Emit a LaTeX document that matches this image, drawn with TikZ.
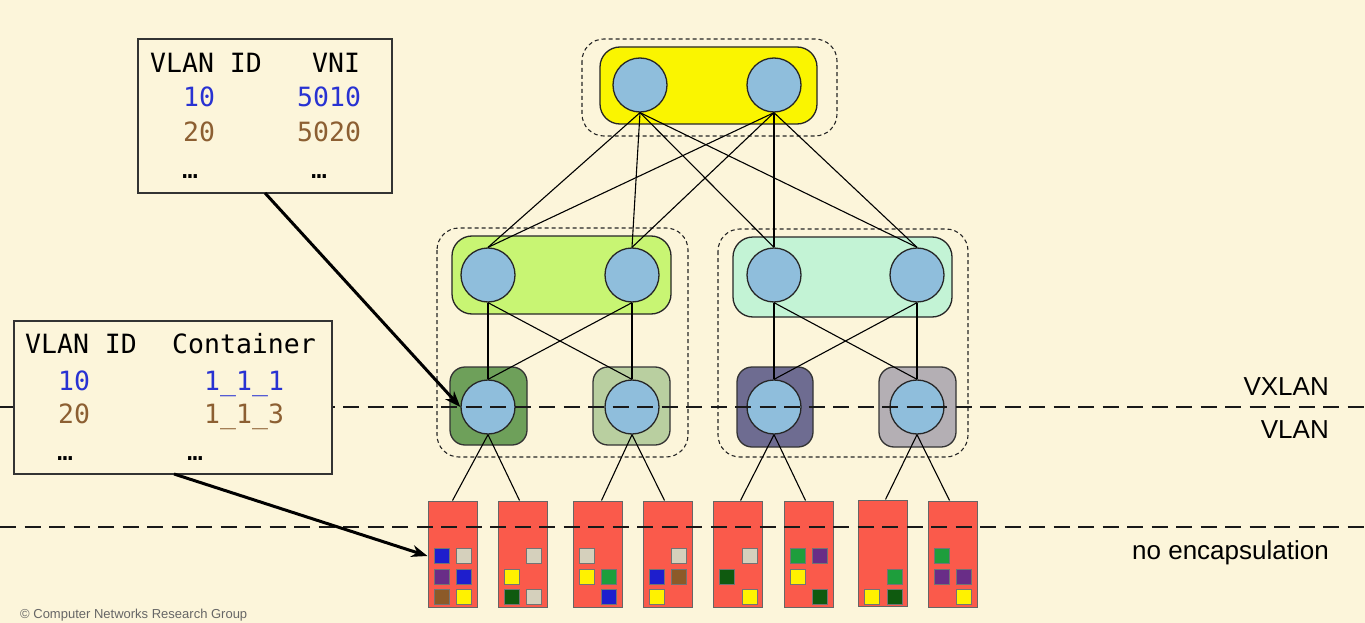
\documentclass[tikz,border=0pt]{standalone}
\usepackage{fontspec}
\setmainfont{Liberation Sans}
\newfontfamily\monofont{DejaVu Sans Mono}
\usetikzlibrary{arrows.meta}
\definecolor{bgc}{RGB}{252,245,218}
\definecolor{circc}{RGB}{143,190,220}
\definecolor{yelc}{RGB}{250,245,0}
\definecolor{lgreen}{RGB}{200,245,115}
\definecolor{mintc}{RGB}{195,243,213}
\definecolor{dgreenbox}{RGB}{110,160,90}
\definecolor{sagec}{RGB}{185,207,160}
\definecolor{purbox}{RGB}{110,108,145}
\definecolor{graybox}{RGB}{180,175,180}
\definecolor{redc}{RGB}{250,90,75}
\definecolor{qblue}{RGB}{30,30,205}
\definecolor{qbeige}{RGB}{213,208,188}
\definecolor{qpurple}{RGB}{105,45,135}
\definecolor{qbrown}{RGB}{140,90,40}
\definecolor{qyellow}{RGB}{255,242,0}
\definecolor{qdgreen}{RGB}{15,90,15}
\definecolor{qgreen}{RGB}{30,158,60}
\definecolor{tblue}{RGB}{40,50,210}
\definecolor{tbrown}{RGB}{140,95,50}
\tikzset{
  circ/.style={circle, draw=black!85, line width=1.3pt, fill=circc, minimum size=54pt, inner sep=0pt},
  grp/.style={draw=black!85, line width=1.3pt, rounded corners=20pt},
  dgrp/.style={draw=black!85, line width=1.1pt, dash pattern=on 4pt off 3pt, rounded corners=22pt},
  sqbox/.style={draw=black!80, line width=1.3pt, rounded corners=15pt},
  link/.style={draw=black, line width=1.1pt},
  cont/.style={draw=black!60, line width=1pt, fill=redc, minimum width=49pt, minimum height=106pt, inner sep=0pt},
  mini/.style={draw=black!55, line width=0.8pt},
  sepline/.style={draw=black!90, line width=2pt, dash pattern=on 16pt off 8.5pt},
  tbl/.style={draw=black!80, line width=1.3pt, fill=bgc},
  mono/.style={font=\monofont\fontsize{26.5}{30}\selectfont, anchor=base west, inner sep=0pt},
  lbl/.style={font=\fontsize{26}{30}\selectfont, anchor=base east, inner sep=0pt},
  bigarrow/.style={draw=black, line width=3pt, -{Stealth[length=16pt,width=12pt]}}
}
\newcommand\minisq[3]{\draw[mini, fill=#3] (#1,#2) rectangle ++(15,15);}
\begin{document}
\begin{tikzpicture}[x=1pt,y=-1pt]
\fill[bgc] (0,0) rectangle (1365,623);
\useasboundingbox (0,0) rectangle (1365,623);

% group backgrounds
\draw[dgrp] (582,39) rectangle (837,136);
\draw[grp, fill=yelc] (600,47) rectangle (817,124);
\draw[dgrp] (437,228) rectangle (688,457);
\draw[dgrp] (718,229) rectangle (968,457);
\draw[grp, fill=lgreen] (452,236) rectangle (671,314);
\draw[grp, fill=mintc] (733,237) rectangle (952,317);
\draw[sqbox, fill=dgreenbox] (450,367) rectangle (527,445);
\draw[sqbox, fill=sagec] (593,367) rectangle (670,445);
\draw[sqbox, fill=purbox] (737,367) rectangle (813,447);
\draw[sqbox, fill=graybox] (879,367) rectangle (956,447);

% nodes
\node[circ] (t1) at (640,85) {};
\node[circ] (t2) at (774,85) {};
\node[circ] (m1) at (488,275) {};
\node[circ] (m2) at (632,275) {};
\node[circ] (m3) at (774,275) {};
\node[circ] (m4) at (917,275) {};
\node[circ] (l1) at (488,407) {};
\node[circ] (l2) at (632,407) {};
\node[circ] (l3) at (774,407) {};
\node[circ] (l4) at (917,407) {};

\node[cont] (c1) at (452.5,554) {};
\node[cont] (c2) at (522.5,554) {};
\node[cont] (c3) at (597.5,554) {};
\node[cont] (c4) at (667.5,554) {};
\node[cont] (c5) at (737.5,554) {};
\node[cont] (c6) at (808.5,554) {};
\node[cont] (c7) at (882.5,553) {};
\node[cont] (c8) at (952.5,554) {};

% links
\foreach \a in {t1,t2}{
  \foreach \b in {m1,m2,m3,m4}{
    \draw[link] (\a.south) -- (\b.north);
  }
}
\foreach \a in {m1,m2}{
  \foreach \b in {l1,l2}{
    \draw[link] (\a.south) -- (\b.north);
  }
}
\foreach \a in {m3,m4}{
  \foreach \b in {l3,l4}{
    \draw[link] (\a.south) -- (\b.north);
  }
}
\draw[link] (l1.south) -- (c1.north);
\draw[link] (l1.south) -- ([xshift=-3pt]c2.north);
\draw[link] (l2.south) -- ([xshift=4pt]c3.north);
\draw[link] (l2.south) -- ([xshift=-3pt]c4.north);
\draw[link] (l3.south) -- ([xshift=3pt]c5.north);
\draw[link] (l3.south) -- ([xshift=-3pt]c6.north);
\draw[link] (l4.south) -- ([xshift=3pt]c7.north);
\draw[link] (l4.south) -- ([xshift=-3pt]c8.north);

% mini squares
% C1 (428)
\minisq{434}{548}{qblue}\minisq{456}{548}{qbeige}
\minisq{434}{569}{qpurple}\minisq{456}{569}{qblue}
\minisq{434}{589}{qbrown}\minisq{456}{589}{qyellow}
% C2 (498)
\minisq{526}{548}{qbeige}
\minisq{504}{569}{qyellow}
\minisq{504}{589}{qdgreen}\minisq{526}{589}{qbeige}
% C3 (573)
\minisq{579}{548}{qbeige}
\minisq{579}{569}{qyellow}\minisq{601}{569}{qgreen}
\minisq{601}{589}{qblue}
% C4 (643)
\minisq{671}{548}{qbeige}
\minisq{649}{569}{qblue}\minisq{671}{569}{qbrown}
\minisq{649}{589}{qyellow}
% C5 (713)
\minisq{742}{548}{qbeige}
\minisq{719}{569}{qdgreen}
\minisq{742}{589}{qyellow}
% C6 (784)
\minisq{790}{548}{qgreen}\minisq{812}{548}{qpurple}
\minisq{790}{569}{qyellow}
\minisq{812}{589}{qdgreen}
% C7 (858)
\minisq{887}{569}{qgreen}
\minisq{864}{589}{qyellow}\minisq{887}{589}{qdgreen}
% C8 (928)
\minisq{934}{548}{qgreen}
\minisq{934}{569}{qpurple}\minisq{956}{569}{qpurple}
\minisq{956}{589}{qyellow}

% separator lines
\coordinate (s1a) at (0,407);
\coordinate (s1b) at (1365,407);
\coordinate (s2a) at (0,527);
\coordinate (s2b) at (1365,527);
\draw[sepline] (s1a) -- (s1b);
\draw[sepline] (s2a) -- (s2b);

\node[lbl] (lv1) at (1329,395) {VXLAN};
\node[lbl] (lv2) at (1329,438) {VLAN};
\node[lbl] (lv3) at (1329,559) {no encapsulation};

% top table
\draw[tbl] (138,39) rectangle (392,193);
\node[mono] (h1) at (150,72.5) {VLAN ID};
\node[mono] (h2) at (312,72.5) {VNI};
\node[mono, text=tblue] (r1a) at (183,107) {10};
\node[mono, text=tblue] (r1b) at (297,107) {5010};
\node[mono, text=tbrown] (r2a) at (183,142) {20};
\node[mono, text=tbrown] (r2b) at (297,142) {5020};
\node[mono] (r3a) at (182,178) {…};
\node[mono] (r3b) at (311,178) {…};

% left table
\draw[tbl] (14,321) rectangle (332,474);
\node[mono] (g1) at (25,353) {VLAN ID};
\node[mono] (g2) at (172,353) {Container};
\node[mono, text=tblue] (q1a) at (58,390) {10};
\node[mono, text=tblue] (q1b) at (204,390) {1\_1\_1};
\node[mono, text=tbrown] (q2a) at (58,423) {20};
\node[mono, text=tbrown] (q2b) at (204,423) {1\_1\_3};
\node[mono] (q3a) at (57,460) {…};
\node[mono] (q3b) at (187,460) {…};

% arrows
\coordinate (a1s) at (265,193);
\coordinate (a2s) at (174,474);
\draw[bigarrow] (a1s) -- (l1.west);
\draw[bigarrow] (a2s) -- ([yshift=-2pt]c1.west);

\node[font=\fontsize{13}{15}\selectfont, text=black!60, anchor=west, inner sep=0pt] (copy) at (20,615) {© Computer Networks Research Group};
\end{tikzpicture}
\end{document}
